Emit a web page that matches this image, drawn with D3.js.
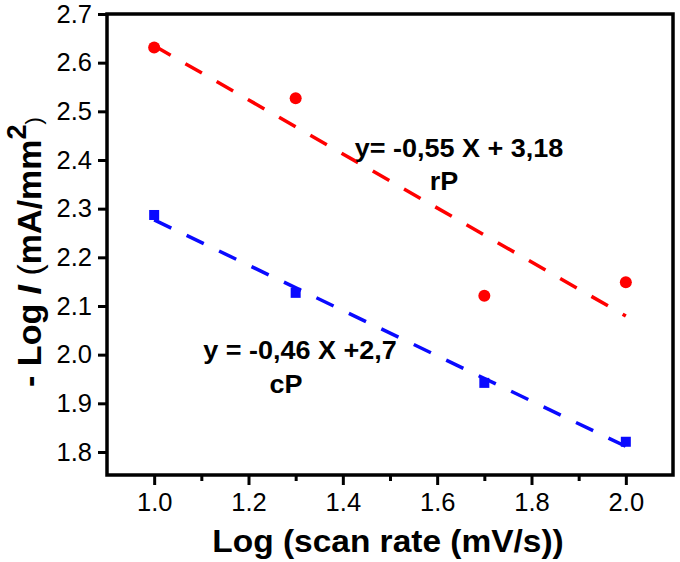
<!DOCTYPE html>
<html><head><meta charset="utf-8">
<script src="https://cdn.jsdelivr.net/npm/d3@7"></script>
<style>
html,body{margin:0;padding:0;background:#fff;}
svg{display:block;font-family:"Liberation Sans",Arial,sans-serif;}
</style></head>
<body><svg id="c" width="680" height="562"></svg>
<script>
// ---- data ----
const scanLog = [1.0, 1.3, 1.7, 2.0];
const rP = [2.631, 2.527, 2.121, 2.149];
const cP = [2.287, 2.127, 1.942, 1.821];
const xMajorTicks = [1.0, 1.2, 1.4, 1.6, 1.8, 2.0];
const xMinorTicks = [1.1, 1.3, 1.5, 1.7, 1.9];
const yTicks = [1.8, 1.9, 2.0, 2.1, 2.2, 2.3, 2.4, 2.5, 2.6, 2.7];
const rPLabel = ["y= -0,55 X + 3,18", "rP"];
const cPLabel = ["y = -0,46 X +2,7", "cP"];

const svg = d3.select("#c");
const L = 107, R = 673, T = 14, B = 475;
const x = d3.scaleLinear().domain([0.9, 2.1]).range([L, R]);
const y = d3.scaleLinear().domain([1.7527, 2.7]).range([B, T]);

// linear regression fit
function fit(xs, ys) {
  const mx = d3.mean(xs), my = d3.mean(ys);
  let sxy = 0, sxx = 0;
  xs.forEach((v, i) => { sxy += (v - mx) * (ys[i] - my); sxx += (v - mx) * (v - mx); });
  const b = sxy / sxx, a = my - b * mx;
  return [[1.0, a + b * 1.0], [2.0, a + b * 2.0]];
}
const line = d3.line().x(d => x(d[0])).y(d => y(d[1]));

// frame
svg.append("rect").attr("x", L).attr("y", T).attr("width", R - L).attr("height", B - T)
  .attr("fill", "none").attr("stroke", "#000").attr("stroke-width", 3.5);

// axes
const xAxis = d3.axisBottom(x).tickValues(xMajorTicks).tickSize(10).tickPadding(8).tickFormat(d3.format(".1f"));
const gx = svg.append("g").attr("transform", `translate(0,${B})`).call(xAxis);
const gxm = svg.append("g").attr("transform", `translate(0,${B})`)
  .call(d3.axisBottom(x).tickValues(xMinorTicks).tickSize(6).tickFormat(""));
const yAxis = d3.axisLeft(y).tickValues(yTicks).tickSize(9).tickPadding(6).tickFormat(d3.format(".1f"));
const gy = svg.append("g").attr("transform", `translate(${L},0)`).call(yAxis);
[gx, gxm, gy].forEach(g => {
  g.select(".domain").remove();
  g.selectAll(".tick line").attr("stroke", "#000").attr("stroke-width", 3);
  g.selectAll(".tick text").attr("font-family", "Liberation Sans, Arial, sans-serif")
    .attr("font-size", 25.5).attr("fill", "#000");
});

// fit lines
svg.append("path").datum(fit(scanLog, rP)).attr("d", line)
  .attr("fill", "none").attr("stroke", "#ff0000").attr("stroke-width", 3.5)
  .attr("stroke-dasharray", "19 17");
svg.append("path").datum(fit(scanLog, cP)).attr("d", line)
  .attr("fill", "none").attr("stroke", "#0a0aff").attr("stroke-width", 3.5)
  .attr("stroke-dasharray", "19 17");

// markers
svg.selectAll("circle.rp").data(scanLog).join("circle").attr("class", "rp")
  .attr("cx", d => x(d)).attr("cy", (d, i) => y(rP[i])).attr("r", 6).attr("fill", "#ff0000");
svg.selectAll("rect.cp").data(scanLog).join("rect").attr("class", "cp")
  .attr("x", d => x(d) - 5).attr("y", (d, i) => y(cP[i]) - 5).attr("width", 10).attr("height", 10)
  .attr("fill", "#0a0aff");

// equation labels
function label(txt, cx, by, size) {
  svg.append("text").attr("transform", `translate(${cx},${by}) scale(1.08,1)`)
    .attr("text-anchor", "middle").attr("font-weight", "bold").attr("font-size", size)
    .attr("fill", "#000").text(txt);
}
label(rPLabel[0], 459, 157, 25);
label(rPLabel[1], 444, 190, 25);
label(cPLabel[0], 300, 359, 25);
label(cPLabel[1], 286, 393, 25);

// axis titles
svg.append("text").attr("transform", `translate(388,552) scale(1.08,1)`)
  .attr("text-anchor", "middle").attr("font-weight", "bold").attr("font-size", 31)
  .attr("fill", "#000").text("Log (scan rate (mV/s))");

const yt = svg.append("text").attr("transform", `translate(41,252) rotate(-90)`)
  .attr("text-anchor", "middle").attr("font-size", 34).attr("fill", "#000");
yt.append("tspan").attr("font-weight", "bold").text("- Log ");
yt.append("tspan").attr("font-weight", "bold").attr("font-style", "italic").text("I");
yt.append("tspan").text(" (");
yt.append("tspan").attr("font-weight", "bold").text("mA/mm");
yt.append("tspan").attr("font-weight", "bold").attr("font-size", 27).attr("dy", -15).text("2");
yt.append("tspan").attr("dy", 15).attr("font-size", 22).text(")");
</script></body></html>
